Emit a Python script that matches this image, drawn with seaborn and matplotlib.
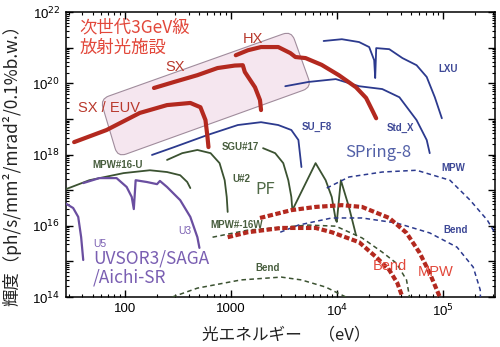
import numpy as np
import pandas as pd
import matplotlib
matplotlib.use("Agg")
import matplotlib.pyplot as plt
import seaborn as sns
from matplotlib.path import Path
from matplotlib.patches import PathPatch
from matplotlib.ticker import FixedLocator, FixedFormatter, LogLocator, NullFormatter, FuncFormatter

# ---------------- spectra: photon energy (eV) and log10(brightness) ----------------
# Next-generation 3 GeV source
sx_euv_e = [33.4, 67.5, 139, 251, 416, 518, 578, 604, 617]
sx_euv_lb = [18.35, 18.69, 19.17, 19.39, 19.45, 19.33, 18.97, 18.49, 18.21]
sx_e = [189, 293, 485, 751, 1091, 1300, 1358, 1694, 1888, 1931]
sx_lb = [19.87, 20.04, 20.23, 20.43, 20.50, 20.51, 20.32, 19.89, 19.53, 19.25]
hx_e = [1116, 1453, 1931, 2805, 3648, 4070, 5075, 7197, 10450, 15170, 18890, 21540, 23500]
hx_lb = [20.79, 20.93, 21.02, 21.02, 20.85, 20.74, 20.71, 20.52, 20.23, 19.89, 19.59, 19.25, 19.02]
bend3_e = [936, 1453, 2993, 6310, 8960, 16220, 23520, 31240, 37240, 41580]
bend3_lb = [15.68, 15.82, 15.94, 15.94, 15.82, 15.54, 15.12, 14.76, 14.39, 14.0]
mpw3_e = [1888, 3728, 6310, 11160, 17300, 31240, 45420, 60420, 75180, 87700, 93600]
mpw3_lb = [16.22, 16.44, 16.53, 16.58, 16.53, 16.22, 15.80, 15.24, 14.67, 14.20, 14.0]

# SPring-8
su_f8_e = [181, 293, 604, 1166, 1931, 2805, 3728, 4345, 4642]
su_f8_lb = [17.99, 18.21, 18.55, 18.83, 18.91, 18.83, 18.69, 18.41, 17.65]
std_x_e = [3268, 5412, 9782, 16220, 26830, 38930, 56450, 70400, 75180]
std_x_lb = [19.92, 20.04, 20.12, 19.92, 19.84, 19.61, 18.97, 18.41, 18.04]
lxu_e = [7515, 11160, 16220, 20190, 22510, 23010, 23520, 31240, 41580, 56500, 70400, 83950, 97800]
lxu_lb = [21.19, 21.24, 21.16, 21.02, 20.65, 20.15, 20.99, 20.96, 20.71, 20.51, 20.18, 19.61, 19.02]
mpw8_e = [8035, 13010, 26830, 56450, 116600, 180600, 262300, 326800]
mpw8_lb = [17.06, 17.37, 17.51, 17.56, 17.28, 16.72, 16.16, 15.68]
bend8_e = [2930, 4345, 8960, 17300, 36480, 75180, 135900, 193200, 225000, 226000]
bend8_lb = [15.82, 16.02, 16.22, 16.22, 16.08, 15.80, 15.40, 14.84, 14.20, 14.0]

# Photon Factory
mpw16u_e = [28, 46.4, 97.7, 173, 251, 334, 389, 416]
mpw16u_lb = [17.03, 17.28, 17.48, 17.56, 17.51, 17.42, 17.23, 17.06]
u2_e = [251, 349, 485, 646, 785, 877, 917, 936]
u2_lb = [17.85, 18.04, 18.13, 18.04, 17.76, 17.28, 16.81, 16.39]
sgu17_e = [2018, 2624, 3128, 3490, 3728, 3812, 6310, 7852, 8960, 9782, 10000, 10920, 13010, 15170]
sgu17_lb = [18.18, 18.04, 17.76, 17.28, 16.81, 16.44, 17.76, 17.28, 16.81, 16.16, 16.11, 17.28, 16.53, 15.74]
mpw16w_e = [674, 1453, 2993, 5412, 9782, 17300, 26830, 36480, 45420, 48500]
mpw16w_lb = [15.68, 15.88, 15.96, 16.02, 15.99, 15.66, 15.26, 14.95, 14.48, 14.0]
bendpf_e = [281, 485, 1245, 2993, 4642, 7852, 12180]
bendpf_lb = [14.0, 14.25, 14.48, 14.56, 14.48, 14.28, 14.0]

# UVSOR3 / SAGA / Aichi-SR
u5_e = [28, 32.7, 36.5, 38.9, 40.7]
u5_lb = [16.62, 16.50, 16.25, 15.68, 15.04]
u3_e = [40.7, 57.8, 83.9, 104.5, 116.6, 122, 127, 162, 202, 215, 251, 334, 416, 485, 507]
u3_lb = [17.20, 17.34, 17.34, 17.09, 16.81, 16.47, 17.28, 17.23, 17.17, 17.26, 17.09, 16.72, 16.25, 15.68, 15.38]

# Highlight band behind the 3 GeV curves (corner energies and log10 brightness)
band_e = [59, 86, 5780, 3730]
band_lb = [19.56, 17.93, 19.89, 21.47]

x_ticks = [100, 1000, 1e4, 1e5]
x_tick_labels = ["100", "1000", "10$^4$", "10$^5$"]

RED = "#b3291f"
RED_LBL = "#b8382c"
RED_TXT = "#e2483b"
BLUE = "#2c3a8e"
BLUE_TXT = "#3d4896"
GREEN = "#3b5231"
GREEN_TXT = "#485e3e"
PURPLE = "#6a4ea0"
PURPLE_TXT = "#7a5fb2"

sns.set_theme(style="ticks")
plt.rcParams["font.family"] = ["Noto Sans CJK JP", "DejaVu Sans"]

fig = plt.figure(figsize=(5.0, 3.47), dpi=100)
ax = fig.add_axes([0.132, 0.144, 0.858, 0.821])
ax.set_xscale("log")
ax.set_yscale("log")
ax.set_xlim(28, 3.1e5)
ax.set_ylim(1e14, 1e22)


def curve(e, lb, color, lw, ls="-", z=3):
    df = pd.DataFrame({"E": e, "B": 10.0 ** np.asarray(lb, dtype=float)})
    sns.lineplot(data=df, x="E", y="B", sort=False, estimator=None,
                 color=color, lw=lw, linestyle=ls, ax=ax, zorder=z,
                 solid_joinstyle="round", solid_capstyle="round")


# rounded parallelogram band
pts = ax.transData.transform(np.column_stack([band_e, 10.0 ** np.asarray(band_lb)]))
r = 9.0
verts, codes = [], []
n = len(pts)
for i in range(n):
    p0, p1, p2 = pts[i - 1], pts[i], pts[(i + 1) % n]
    d1 = (p0 - p1) / np.linalg.norm(p0 - p1)
    d2 = (p2 - p1) / np.linalg.norm(p2 - p1)
    a = p1 + d1 * r
    b = p1 + d2 * r
    verts.append(a)
    codes.append(Path.MOVETO if i == 0 else Path.LINETO)
    verts += [p1, b]
    codes += [Path.CURVE3, Path.CURVE3]
verts.append(verts[0])
codes.append(Path.CLOSEPOLY)
verts_ax = ax.transAxes.inverted().transform(np.array(verts))
ax.add_patch(PathPatch(Path(verts_ax, codes), transform=ax.transAxes,
                       facecolor="#f5e6ef", edgecolor="#a08c9c", lw=0.8, zorder=1))

dash_thin = (0, (3, 2.2))
dash_thick = (0, (1.3, 0.6))

# PF
curve(mpw16u_e, mpw16u_lb, GREEN, 1.3)
curve(u2_e, u2_lb, GREEN, 1.3)
curve(sgu17_e, sgu17_lb, GREEN, 1.3)
curve(mpw16w_e, mpw16w_lb, GREEN, 1.1, dash_thin)
curve(bendpf_e, bendpf_lb, GREEN, 1.1, dash_thin)
# SPring-8
curve(su_f8_e, su_f8_lb, BLUE, 1.3)
curve(std_x_e, std_x_lb, BLUE, 1.3)
curve(lxu_e, lxu_lb, BLUE, 1.3)
curve(mpw8_e, mpw8_lb, BLUE, 1.1, dash_thin)
curve(bend8_e, bend8_lb, BLUE, 1.1, dash_thin)
# UVSOR etc.
curve(u5_e, u5_lb, PURPLE, 1.6)
curve(u3_e, u3_lb, PURPLE, 1.6)
# 3 GeV
curve(bend3_e, bend3_lb, RED, 3.0, dash_thick, z=4)
curve(mpw3_e, mpw3_lb, RED, 3.0, dash_thick, z=4)
curve(sx_euv_e, sx_euv_lb, RED, 3.0, z=5)
curve(sx_e, sx_lb, RED, 3.0, z=5)
curve(hx_e, hx_lb, RED, 3.0, z=5)

# axes styling
for s in ax.spines.values():
    s.set_linewidth(1.1)
    s.set_color("black")
ax.xaxis.set_major_locator(FixedLocator(x_ticks))
ax.xaxis.set_major_formatter(FixedFormatter(x_tick_labels))
ax.xaxis.set_minor_locator(LogLocator(base=10, subs=np.arange(2, 10), numticks=50))
ax.xaxis.set_minor_formatter(NullFormatter())
ax.yaxis.set_major_locator(FixedLocator([10.0 ** k for k in range(14, 23)]))
ax.yaxis.set_major_formatter(FuncFormatter(
    lambda v, p: "10$^{%d}$" % round(np.log10(v)) if round(np.log10(v)) % 2 == 0 else ""))
ax.yaxis.set_minor_locator(LogLocator(base=10, subs=np.arange(2, 10), numticks=50))
ax.yaxis.set_minor_formatter(NullFormatter())
ax.tick_params(which="both", direction="in", top=True, right=True, color="black",
               labelsize=9.5, labelcolor="black", pad=4)
ax.tick_params(which="major", length=5, width=1.0)
ax.tick_params(which="minor", length=2.5, width=0.8)
for lab in ax.get_xticklabels() + ax.get_yticklabels():
    lab.set_fontfamily("Liberation Sans")
ax.set_xlabel("")
ax.set_ylabel("")

fig.text(0.572, 0.036, "光エネルギー　（eV）", fontsize=12, ha="center", va="center", color="#222222")
fig.text(0.024, 0.535, "輝度（ph/s/mm²/mrad²/0.1%b.w.）", fontsize=12.5, rotation=90,
         ha="center", va="center", color="#222222")


def label(x, y, s, color, size, weight="normal", family=None):
    kw = {}
    if family:
        kw["family"] = family
    ax.text(x, y, s, transform=ax.transAxes, color=color, fontsize=size,
            fontweight=weight, ha="left", va="center", zorder=6, **kw)


lat = ["Liberation Sans", "DejaVu Sans"]
label(0.032, 0.947, "次世代3GeV級", RED_TXT, 12.5)
label(0.032, 0.874, "放射光施設", RED_TXT, 12.5)
label(0.028, 0.663, "SX / EUV", RED_LBL, 10.5, family=lat)
label(0.231, 0.807, "SX", RED_LBL, 10.5, family=lat)
label(0.413, 0.905, "HX", RED_LBL, 10.5, family=lat)
label(0.716, 0.109, "Bend", RED_TXT, 10.5, family=lat)
label(0.821, 0.088, "MPW", RED_TXT, 10.5, family=lat)

label(0.550, 0.596, "SU_F8", BLUE_TXT, 7, "bold", lat)
label(0.748, 0.593, "Std_X", BLUE_TXT, 7, "bold", lat)
label(0.867, 0.800, "LXU", BLUE_TXT, 7, "bold", lat)
label(0.876, 0.453, "MPW", BLUE_TXT, 7, "bold", lat)
label(0.879, 0.235, "Bend", BLUE_TXT, 7, "bold", lat)
label(0.650, 0.509, "SPring-8", "#5361a8", 12)

label(0.061, 0.463, "MPW#16-U", GREEN_TXT, 7, "bold", lat)
label(0.364, 0.526, "SGU#17", GREEN_TXT, 7, "bold", lat)
label(0.387, 0.414, "U#2", GREEN_TXT, 7, "bold", lat)
label(0.336, 0.253, "MPW#-16W", GREEN_TXT, 7, "bold", lat)
label(0.441, 0.102, "Bend", GREEN_TXT, 7, "bold", lat)
label(0.441, 0.379, "PF", "#506a47", 12)

label(0.063, 0.186, "U5", PURPLE_TXT, 7.5, family=lat)
label(0.261, 0.232, "U3", PURPLE_TXT, 7.5, family=lat)
label(0.063, 0.137, "UVSOR3/SAGA", PURPLE_TXT, 12.5)
label(0.063, 0.067, "/Aichi-SR", PURPLE_TXT, 12.5)

fig.savefig("out.png", dpi=100)
